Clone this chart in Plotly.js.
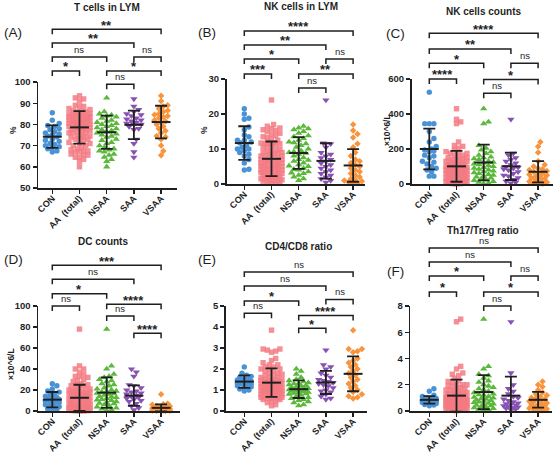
<!DOCTYPE html>
<html><head><meta charset="utf-8">
<script src="https://cdn.plot.ly/plotly-3.0.1.min.js"></script>
<style>html,body{margin:0;padding:0;background:#fff}#chart{width:560px;height:453px}</style>
</head><body><div id="chart"></div>
<script>
const categories = ['CON','AA  (total)','NSAA','SAA','VSAA'];
const colors = ['#4a92d6','#f37a82','#5cb83c','#8852b2','#f7943c'];
const symbols = ['circle','square','triangle-up','triangle-down','diamond'];

// (A) T cells in LYM (%)
const tcellCON  = [85.5,82,80.5,79.5,79,78,77.5,76.5,76,75.5,75,74.5,74,73,72.5,72,71,70.5,70,69.5,69,68.5,67.5,67];
const tcellNSAA = [92.5,86,85,84.5,84,83.5,83,82,81.5,81,80.5,80,79.5,79,78.5,78,77.5,77,76.5,76,75.5,75,74.5,74,73,72.5,71.5,71,70,69,68.5,68,67.5,67,66,65.5,64.5,63.5,62.5,60];
const tcellSAA  = [92,88.5,87,86,85,84.5,84,83,82.5,82,81.5,81,80.5,80,80,79,78,77.5,73,71,67,64.5];
const tcellVSAA = [93.5,91,89,88.5,87.5,86.5,86,85,84.5,84,83.5,83,82,81.5,81,80,79,78,77,76,74.5,74,73,70,67.5,65.5];
const tcellMean = [74.2,78.6,76.3,79.8,81.1];
const tcellSD   = [5.3,7.7,7.8,6.7,7.7];
const tcellBrackets = [[0,4,'**'],[0,3,'**'],[0,2,'ns'],[3,4,'ns'],[0,1,'*'],[2,4,'*'],[2,3,'ns']];

// (B) NK cells in LYM (%)
const nkPctCON  = [21.5,20,18.8,18.5,16.3,15.5,14,13.5,12.5,12.5,12,11.8,11,10.5,10,10,9.5,9,8.5,8,7,6,4.2,4];
const nkPctNSAA = [16.5,16,15.8,15.5,15,14.5,13.8,13.5,13,12.5,12,11.8,11.5,11,10.5,10,9.5,9.2,9,8.8,8.5,8,7.5,7,6.8,6.5,6,5.5,5.2,5,4.5,4.2,4,3.5,3.2,3,2.5,2,1.5,1];
const nkPctSAA  = [24,11.7,11.5,10.5,9,8.5,8,7.5,7,6.5,6,5.5,5,4.5,4,3.5,3,2.5,2,1.5,1,0.5];
const nkPctVSAA = [17,15.3,14.3,13.3,11.5,10.5,9,8,7,6.5,6,5.5,5,4.5,4,3.5,3,2.5,2,1.5,1.2,1,0.8,0.5,0.3,0.2];
const nkPctMean = [11.7,7.2,8.85,6.6,5.3];
const nkPctSD   = [4.8,4.95,4.55,5.05,4.65];
const nkPctBrackets = [[0,4,'****'],[0,3,'**'],[0,2,'*'],[3,4,'ns'],[0,1,'***'],[2,4,'**'],[2,3,'ns']];

// (C) NK cells counts (x10^6/L)
const nkCntCON  = [525,345,345,345,300,260,240,215,200,195,190,185,165,160,150,130,125,115,100,90,80,70,45,45];
const nkCntNSAA = [430,355,345,220,205,195,185,175,165,155,150,145,140,130,125,120,115,110,105,100,95,90,85,80,75,70,65,60,55,50,45,40,35,30,25,20,15,10,5,2];
const nkCntSAA  = [370,175,165,150,140,130,120,110,100,95,90,85,80,70,60,50,45,35,25,15,10,5];
const nkCntVSAA = [240,215,180,130,110,100,90,85,80,75,70,65,60,55,50,45,40,35,30,25,20,15,10,5,2,0];
const nkCntMean = [200,101,123,101,70];
const nkCntSD   = [116,88,102,78,61];
const nkCntBrackets = [[0,4,'****'],[0,3,'**'],[0,2,'*'],[3,4,'ns'],[0,1,'****'],[2,4,'*'],[2,3,'ns']];

// (D) DC counts (x10^6/L)
const dcCON  = [26,24,21,19,18,16,15,14,13,12.5,12,11,10,9.5,9,8,7,6,5,4,3,2,1,0.5];
const dcNSAA = [78,43,40,35,33,32,30,29,28,26,25,24,22,21,20,19,18.5,18,17,16.5,16,15,14,13.5,13,12,11,10.5,10,9,8,7.5,7,6,5,4,3,2,1,0.5];
const dcSAA  = [40,37,33,25,24,22,20,19,18,17,16,15,14,13,12,11,10,9,7,5,3,1];
const dcVSAA = [16,7,6.5,6,5,4.5,4,3.5,3.2,3,2.8,2.5,2,2,1.5,1.5,1.2,1,1,0.8,0.5,0.5,0.3,0.2,0,0];
const dcMean = [10.8,12.6,17.5,14.6,3];
const dcSD   = [7.3,12.4,14.6,9.8,3.3];
const dcBrackets = [[0,4,'***'],[0,3,'ns'],[0,2,'*'],[0,1,'ns'],[2,4,'****'],[2,3,'ns'],[3,4,'****']];

// (E) CD4/CD8 ratio
const cd48CON  = [2.1,1.8,1.7,1.65,1.6,1.55,1.5,1.48,1.45,1.42,1.4,1.38,1.36,1.35,1.32,1.3,1.28,1.25,1.2,1.15,1.1,1.05,1.0,0.95];
const cd48NSAA = [2.0,1.9,1.75,1.6,1.5,1.45,1.4,1.35,1.32,1.3,1.25,1.22,1.2,1.15,1.12,1.1,1.08,1.05,1.04,1.02,1.0,0.98,0.97,0.95,0.92,0.9,0.88,0.85,0.83,0.8,0.75,0.7,0.65,0.6,0.55,0.5,0.45,0.4,0.3,0.25];
const cd48SAA  = [2.9,2.2,2.1,2.0,1.8,1.7,1.6,1.5,1.45,1.4,1.35,1.3,1.25,1.2,1.1,1.0,0.95,0.9,0.8,0.7,0.6,0.55];
const cd48VSAA = [3.85,2.95,2.95,2.85,2.8,2.5,2.4,2.3,2.2,2.1,2.0,1.9,1.8,1.7,1.6,1.5,1.4,1.3,1.2,1.1,1.0,0.9,0.8,0.7,0.65,0.6];
const cd48Mean = [1.4,1.35,1.04,1.36,1.77];
const cd48SD   = [0.3,0.68,0.42,0.55,0.83];
const cd48Brackets = [[0,4,'ns'],[0,3,'ns'],[0,2,'*'],[3,4,'ns'],[0,1,'ns'],[2,4,'****'],[2,3,'*']];

// (F) Th17/Treg ratio
const thCON  = [1.7,1.5,1.2,1.1,1.0,0.95,0.9,0.88,0.85,0.82,0.8,0.78,0.75,0.72,0.7,0.7,0.68,0.65,0.6,0.58,0.55,0.5,0.45,0.4];
const thNSAA = [7.0,3.4,3.2,2.8,2.7,2.5,2.3,2.2,2.0,1.9,1.8,1.7,1.6,1.5,1.4,1.3,1.25,1.2,1.1,1.05,1.0,0.95,0.9,0.85,0.8,0.75,0.7,0.65,0.6,0.55,0.5,0.45,0.4,0.35,0.3,0.25,0.2,0.15,0.1,0.05];
const thSAA  = [6.8,2.9,2.0,1.7,1.5,1.3,1.1,1.0,0.9,0.8,0.7,0.6,0.55,0.5,0.45,0.4,0.35,0.3,0.25,0.2,0.15,0.1];
const thVSAA = [2.25,2.0,1.85,1.6,1.4,1.3,1.2,1.1,1.0,0.95,0.9,0.8,0.75,0.7,0.6,0.55,0.5,0.45,0.4,0.35,0.3,0.2,0.15,0.1,0.05,0.02];
const thMean = [0.85,1.17,1.44,1.17,0.85];
const thSD   = [0.29,1.22,1.3,1.45,0.6];
const thBrackets = [[0,4,'ns'],[0,3,'ns'],[0,2,'*'],[3,4,'ns'],[0,1,'*'],[2,4,'*'],[2,3,'ns']];

// ---------- layout configuration (pixel geometry) ----------
const W = 560, H = 453, SP = 27.2;
const panels = [
  {label:'(A)', title:'T cells in LYM', ytitle:'%', yr:[50,100], dt:10,
   g:[tcellCON,tcellNSAA,tcellSAA,tcellVSAA], mean:tcellMean, sd:tcellSD, br:tcellBrackets,
   brY:[29.3,43,57,57,71,71,84.3], xc:52.3, lo:-0.52, hi:4.6, top:82, bot:188,
   tPos:[107,7.5], lPos:[13,32.3], yPos:[13,130]},
  {label:'(B)', title:'NK cells in LYM', ytitle:'%', yr:[0,30], dt:10,
   g:[nkPctCON,nkPctNSAA,nkPctSAA,nkPctVSAA], mean:nkPctMean, sd:nkPctSD, br:nkPctBrackets,
   brY:[31,45,59,59,74,74,88], xc:244.3, lo:-0.65, hi:4.45, top:79, bot:184,
   tPos:[301,6.8], lPos:[207,32.3], yPos:[204,130]},
  {label:'(C)', title:'NK cells counts', ytitle:'\u00d710^6/L', yr:[0,600], dt:200,
   g:[nkCntCON,nkCntNSAA,nkCntSAA,nkCntVSAA], mean:nkCntMean, sd:nkCntSD, br:nkCntBrackets,
   brY:[33.3,49,63.3,63.3,79,79.5,93.3], xc:429.3, lo:-0.65, hi:4.55, top:79, bot:184,
   tPos:[483,11], lPos:[395,33.3], yPos:[387,130]},
  {label:'(D)', title:'DC counts', ytitle:'\u00d710^6/L', yr:[0,100], dt:20,
   g:[dcCON,dcNSAA,dcSAA,dcVSAA], mean:dcMean, sd:dcSD, br:dcBrackets,
   brY:[265.3,279.3,293.7,306,304.3,316,333.3], xc:52.3, lo:-0.52, hi:4.7, top:306, bot:411,
   tPos:[102.5,241], lPos:[13,259.3], yPos:[11,364]},
  {label:'(E)', title:'CD4/CD8 ratio', ytitle:'', yr:[0,5], dt:1,
   g:[cd48CON,cd48NSAA,cd48SAA,cd48VSAA], mean:cd48Mean, sd:cd48SD, br:cd48Brackets,
   brY:[272,286,301,299.5,313.3,315.5,328.3], xc:244.3, lo:-0.68, hi:4.5, top:306, bot:411,
   tPos:[298,246], lPos:[207,259.3], yPos:null},
  {label:'(F)', title:'Th17/Treg ratio', ytitle:'', yr:[0,8], dt:2,
   g:[thCON,thNSAA,thSAA,thVSAA], mean:thMean, sd:thSD, br:thBrackets,
   brY:[248,262,276,276,292,292,306], xc:429.3, lo:-0.7, hi:4.5, top:306, bot:411,
   tPos:[483,230], lPos:[395,271], yPos:null}
];

function swarm(vals, pxPerUnit, D, maxOff){
  const idx = vals.map((v,i)=>i).sort((a,b)=>vals[a]-vals[b]);
  const placed = []; const off = new Array(vals.length).fill(0);
  const step = D*0.5;
  const cands = [0];
  for(let k=1;k*step<=maxOff;k++){cands.push(k*step,-k*step);}
  for(const i of idx){
    const py = vals[i]*pxPerUnit;
    let best = 0, bestScore = -Infinity;
    for(const c of cands){
      let minD = Infinity;
      for(const p of placed){
        const dy = p.y-py; if(Math.abs(dy)>=D) continue;
        const d = Math.hypot(p.x-c, dy); if(d<minD) minD = d;
      }
      if(minD>=D){best=c;bestScore=Infinity;break;}
      if(minD>bestScore){bestScore=minD;best=c;}
    }
    placed.push({x:best,y:py}); off[i]=best;
  }
  return off;
}

const FONT = 'Liberation Sans, Arial, Helvetica, sans-serif';
const INK = '#1f1f1f';
const traces = [], shapes = [], annotations = [];
const layout = {width:W, height:H, margin:{l:0,r:0,t:0,b:0}, showlegend:false,
  paper_bgcolor:'#fff', plot_bgcolor:'rgba(0,0,0,0)', font:{family:FONT,color:INK}};

const sizes = [5.4,5.4,6.4,6.4,5];
const dens  = [4.6,4.2,4.8,4.8,4.4];
const maxW  = [9,12,10,9,9];

panels.forEach((p,k)=>{
  const n = k===0 ? '' : String(k+1);
  const xa = 'x'+n, ya = 'y'+n;
  const left = p.xc + p.lo*SP, right = p.xc + p.hi*SP;
  layout['xaxis'+n] = {domain:[left/W, right/W], range:[p.lo,p.hi], anchor:ya,
    tickvals:[0,1,2,3,4], ticktext:categories, tickangle:-45, ticklabelstandoff:-4,
    showline:true, linecolor:INK, linewidth:1.6, ticks:'outside', ticklen:4, tickwidth:1.4, tickcolor:INK,
    showgrid:false, zeroline:false, fixedrange:true,
    tickfont:{family:FONT, size:9, color:INK, weight:'bold'}};
  layout['yaxis'+n] = {domain:[1-p.bot/H, 1-p.top/H], range:p.yr, dtick:p.dt, tick0:p.yr[0], anchor:xa,
    showline:true, linecolor:INK, linewidth:1.6, ticks:'outside', ticklen:4, tickwidth:1.4, tickcolor:INK,
    showgrid:false, zeroline:false, fixedrange:true,
    tickfont:{family:FONT, size:9.5, color:INK, weight:'bold'}};
  const pxPerUnit = (p.bot-p.top)/(p.yr[1]-p.yr[0]);
  const groups = [p.g[0], [].concat(p.g[1],p.g[2],p.g[3]), p.g[1], p.g[2], p.g[3]];
  groups.forEach((vals,gi)=>{
    const off = swarm(vals, pxPerUnit, dens[gi], maxW[gi]);
    traces.push({type:'scatter', mode:'markers', xaxis:xa, yaxis:ya, cliponaxis:false,
      x: vals.map((v,i)=>gi + off[i]/SP), y: vals, hoverinfo:'skip',
      marker:{symbol:symbols[gi], size:sizes[gi], color:colors[gi], opacity: gi===1?0.85:1, line:{width:0}}});
  });
  traces.push({type:'scatter', mode:'markers', xaxis:xa, yaxis:ya, cliponaxis:false,
    x:[0,1,2,3,4], y:p.mean, hoverinfo:'skip',
    marker:{symbol:'line-ew-open', size:13.5, color:INK, line:{width:2, color:INK}},
    error_y:{type:'data', array:p.sd, visible:true, color:INK, thickness:1.8, width:6}});
  // brackets
  p.br.forEach((b,bi)=>{
    const ly = p.brY[bi];
    const yt = 1-ly/H, yb = 1-(ly+5)/H;
    shapes.push({type:'path', xref:xa, yref:'paper',
      path:`M${b[0]},${yb}L${b[0]},${yt}L${b[1]},${yt}L${b[1]},${yb}`,
      line:{color:INK, width:1.5}});
    const isStar = b[2].indexOf('*')>=0;
    annotations.push({xref:xa, yref:'paper', x:(b[0]+b[1])/2, y:1-(ly-(isStar?4.2:8))/H,
      text:b[2], showarrow:false, xanchor:'center', yanchor:'middle',
      font:{family:FONT, size: isStar?13:9.5, color:INK, weight: isStar?'bold':'normal'}});
  });
  annotations.push({xref:'paper', yref:'paper', x:p.tPos[0]/W, y:1-p.tPos[1]/H, text:p.title,
    showarrow:false, xanchor:'center', yanchor:'middle', font:{family:FONT, size:10, color:INK, weight:'bold'}});
  annotations.push({xref:'paper', yref:'paper', x:p.lPos[0]/W, y:1-p.lPos[1]/H, text:p.label,
    showarrow:false, xanchor:'center', yanchor:'middle', font:{family:FONT, size:13.5, color:INK}});
  if(p.yPos){
    annotations.push({xref:'paper', yref:'paper', x:p.yPos[0]/W, y:1-p.yPos[1]/H, text:p.ytitle,
      textangle:-90, showarrow:false, xanchor:'center', yanchor:'middle',
      font:{family:FONT, size:8.5, color:INK, weight:'bold'}});
  }
});
layout.shapes = shapes;
layout.annotations = annotations;
Plotly.newPlot('chart', traces, layout, {staticPlot:true, displayModeBar:false});
</script>
</body></html>
